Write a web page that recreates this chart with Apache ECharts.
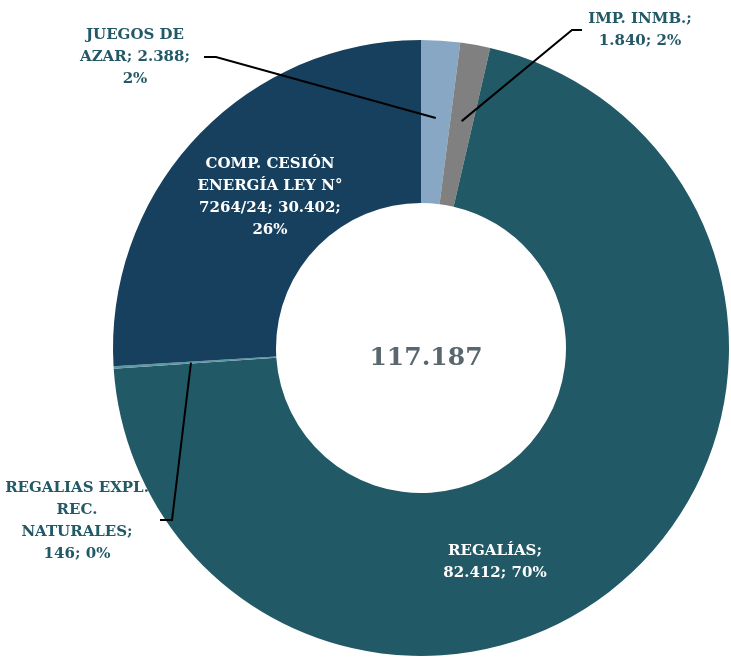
<!DOCTYPE html>
<html style="height: 100%">
<head>
  <meta charset="utf-8">
  <script src="https://cdn.jsdelivr.net/npm/echarts@6/dist/echarts.min.js"></script>
</head>
<body style="height: 100%; margin: 0; background: #fff">
<div id="main" style="width: 731px; height: 659px;"></div>
<script type="text/javascript">
// data
var names = ['JUEGOS DE\nAZAR', 'IMP. INMB.', 'REGALÍAS', 'REGALIAS EXPL.\nREC.\nNATURALES', 'COMP. CESIÓN\nENERGÍA LEY N°\n7264/24'];
var values = [2388, 1840, 82412, 146, 30402];
var pctLabels = ['2%', '2%', '70%', '0%', '26%'];
var totalLabel = '117.187';
var colors = ['#87A7C4', '#808080', '#225966', '#5D98A3', '#17405F'];

function fmt(v) {
  return v.toLocaleString('de-DE');
}

var cx = 421, cy = 348, rIn = 145, rOut = 308;
var font = '"DejaVu Serif", serif';

// label text per slice (line breaks follow the reference)
var labelText = [
  'JUEGOS DE\nAZAR; ' + fmt(values[0]) + ';\n' + pctLabels[0],
  'IMP. INMB.;\n' + fmt(values[1]) + '; ' + pctLabels[1],
  'REGALÍAS;\n' + fmt(values[2]) + '; ' + pctLabels[2],
  'REGALIAS EXPL.\nREC.\nNATURALES;\n' + fmt(values[3]) + '; ' + pctLabels[3],
  'COMP. CESIÓN\nENERGÍA LEY N°\n7264/24; ' + fmt(values[4]) + ';\n' + pctLabels[4]
];
var labelPos = [[135, 57], [640, 30], [495, 562], [77, 521], [270, 197]];
var labelColor = ['#225966', '#225966', '#ffffff', '#225966', '#ffffff'];
// elbow and end of the leader lines for outside labels
var leader = {
  0: [[216, 57], [204, 57]],
  1: [[572, 30], [582, 30]],
  3: [[172, 520], [160, 520]]
};

var total = values.reduce(function (a, b) { return a + b; }, 0);
var data = names.map(function (n, i) {
  return {
    name: n,
    value: values[i],
    itemStyle: { color: colors[i] },
    label: { color: labelColor[i] }
  };
});

var graphics = [{
  type: 'text',
  x: cx + 5, y: cy + 10,
  style: {
    text: totalLabel, font: 'bold 25px ' + font, fill: '#5B676F',
    align: 'center', verticalAlign: 'middle'
  }
}];

var acc = 0;
values.forEach(function (v, i) {
  var mid = (acc + v / 2) / total * Math.PI * 2;
  acc += v;
  if (!leader[i]) return;
  var rMid = (rIn + rOut) / 2 + 4;
  var p0 = [cx + rMid * Math.sin(mid), cy - rMid * Math.cos(mid)];
  graphics.push({
    type: 'polyline',
    z: 10,
    shape: { points: [p0].concat(leader[i]) },
    style: { stroke: '#000', lineWidth: 2, fill: null }
  });
});

var chart = echarts.init(document.getElementById('main'));
var option = {
  backgroundColor: '#fff',
  animation: false,
  series: [{
    type: 'pie',
    center: [cx, cy],
    radius: [rIn, rOut],
    startAngle: 90,
    clockwise: true,
    avoidLabelOverlap: false,
    itemStyle: { borderWidth: 0 },
    label: {
      show: true,
      position: 'inside',
      formatter: function (p) { return labelText[p.dataIndex]; },
      fontFamily: font,
      fontWeight: 'bold',
      fontSize: 15,
      lineHeight: 22,
      align: 'center'
    },
    labelLine: { show: false },
    labelLayout: function (p) {
      var pos = labelPos[p.dataIndex];
      return { x: pos[0], y: pos[1], align: 'center', verticalAlign: 'middle' };
    },
    data: data
  }],
  graphic: graphics
};
chart.setOption(option);
</script>
</body>
</html>
